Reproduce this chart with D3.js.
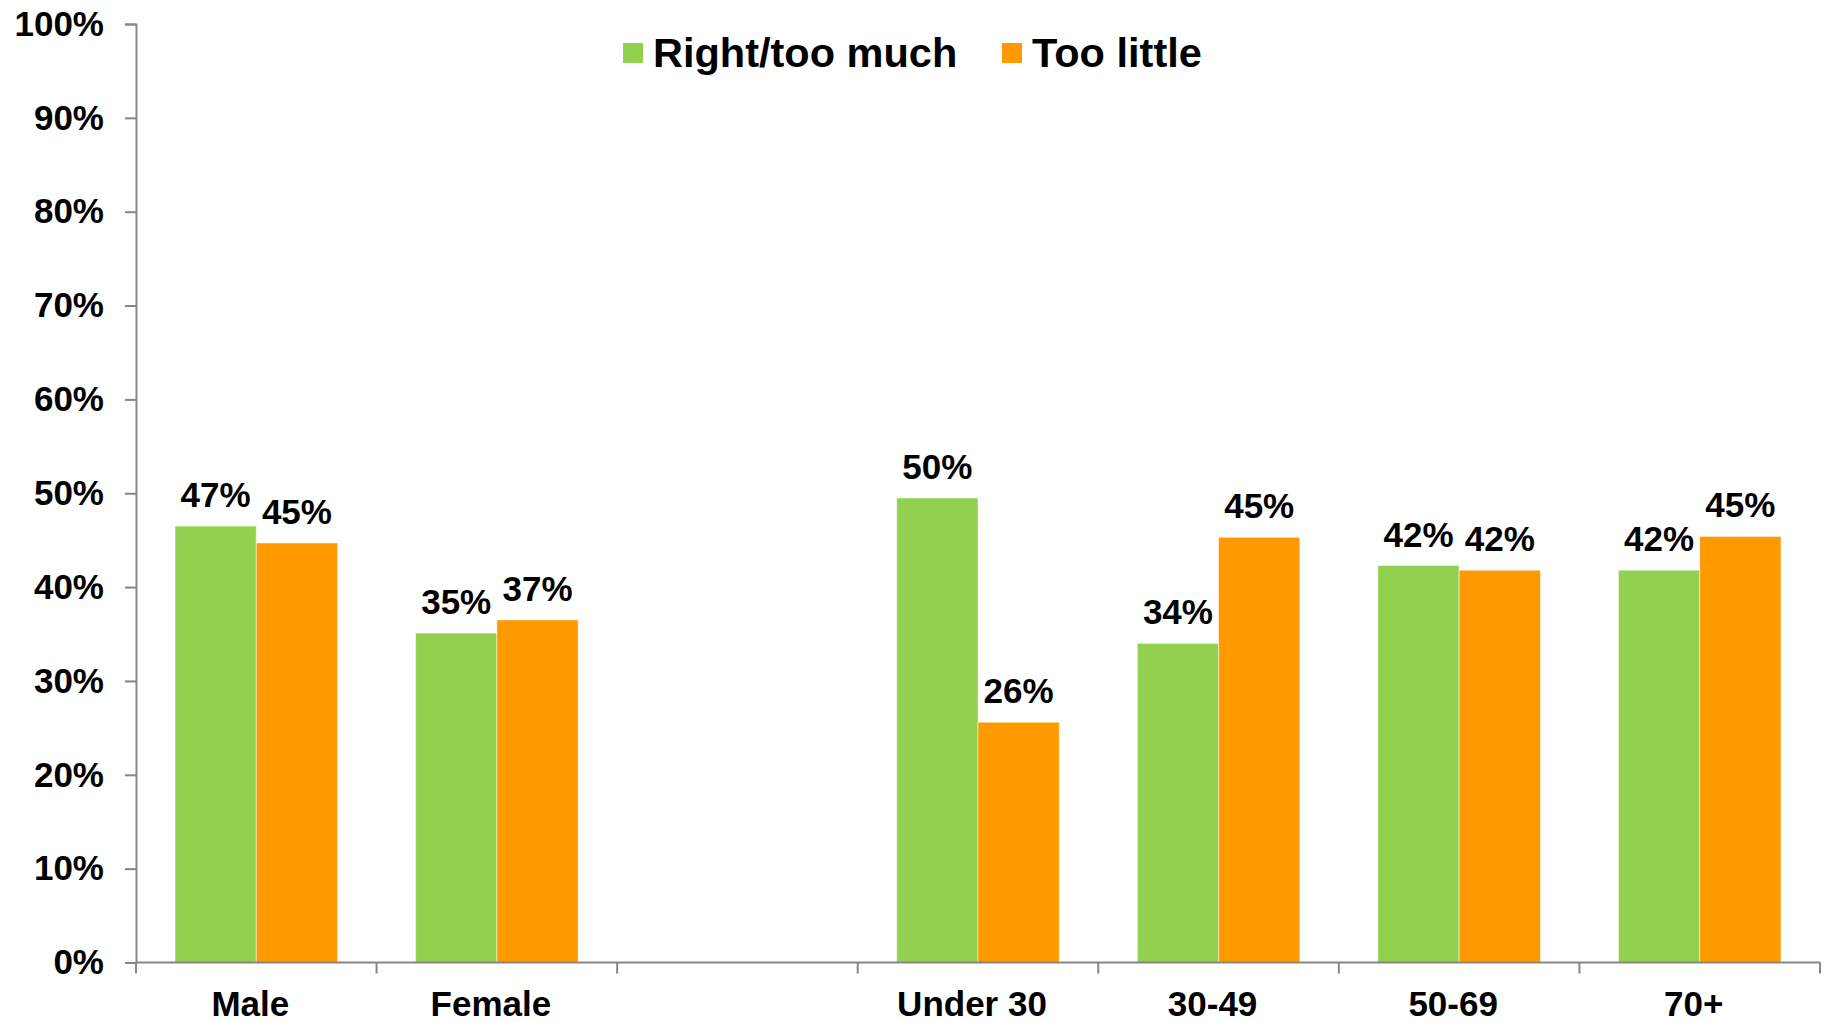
<!DOCTYPE html>
<html>
<head>
<meta charset="utf-8">
<script src="https://cdn.jsdelivr.net/npm/d3@7"></script>
<style>
  html, body { margin: 0; padding: 0; background: #fff; }
  svg { display: block; font-family: "Liberation Sans", Arial, sans-serif; font-weight: bold; }
</style>
</head>
<body>
<svg id="chart" width="1823" height="1022"></svg>
<script>
// Groups along the x axis; the empty entry leaves a gap between sex and age groups
const categories = ["Male", "Female", "", "Under 30", "30-49", "50-69", "70+"];
const seriesNames = ["Right/too much", "Too little"];
const seriesColors = ["#92D050", "#FF9900"];
const rightTooMuch = [0.465, 0.351, null, 0.495, 0.340, 0.423, 0.418];
const tooLittle    = [0.447, 0.365, null, 0.256, 0.453, 0.418, 0.454];
const yTicks = [0, 0.1, 0.2, 0.3, 0.4, 0.5, 0.6, 0.7, 0.8, 0.9, 1.0];

const series = [rightTooMuch, tooLittle];

const svg = d3.select("#chart");
const plotLeft = 136, plotRight = 1820, plotTop = 24, plotBottom = 962.5;
const axisColor = "#868686";

const x = d3.scaleBand().domain(categories).range([plotLeft, plotRight]).paddingInner(0).paddingOuter(0);
const xInner = d3.scaleBand().domain(d3.range(series.length)).range([0, x.bandwidth()]).paddingInner(0).paddingOuter(0.48);
const y = d3.scaleLinear().domain([0, 1]).range([plotBottom, plotTop]);

// Bars and value labels
categories.forEach((cat, i) => {
  series.forEach((vals, s) => {
    const v = vals[i];
    if (v == null) return;
    svg.append("rect")
      .attr("x", x(cat) + xInner(s))
      .attr("y", y(v))
      .attr("width", xInner.bandwidth())
      .attr("height", y(0) - y(v))
      .attr("fill", seriesColors[s])
      .attr("stroke", "#fff")
      .attr("stroke-opacity", 0.5)
      .attr("stroke-width", 1);
    svg.append("text")
      .attr("x", x(cat) + xInner(s) + xInner.bandwidth() / 2)
      .attr("y", y(v) - 19)
      .attr("text-anchor", "middle")
      .attr("font-size", 35)
      .attr("fill", "#000")
      .text(d3.format(".0%")(v));
  });
});

// Y axis
const yAxis = d3.axisLeft(y).tickValues(yTicks).tickFormat(d3.format(".0%")).tickSize(11).tickPadding(21);
const gy = svg.append("g").attr("transform", `translate(${plotLeft},0)`).call(yAxis);
gy.select(".domain").attr("stroke", axisColor).attr("stroke-width", 2);
gy.selectAll(".tick line").attr("stroke", axisColor).attr("stroke-width", 2);
gy.selectAll(".tick text").attr("font-size", 35).attr("font-weight", "bold").attr("fill", "#000")
  .attr("font-family", "Liberation Sans, Arial, sans-serif");

// X axis: ticks at group boundaries, labels centred in each group
const boundaries = categories.map(c => x(c)).concat([plotRight]);
const gx = svg.append("g");
gx.append("line").attr("x1", plotLeft).attr("x2", plotRight).attr("y1", plotBottom).attr("y2", plotBottom)
  .attr("stroke", axisColor).attr("stroke-width", 2);
gx.selectAll("line.tk").data(boundaries).join("line").attr("class", "tk")
  .attr("x1", d => d).attr("x2", d => d).attr("y1", plotBottom).attr("y2", plotBottom + 11)
  .attr("stroke", axisColor).attr("stroke-width", 2);
gx.selectAll("text").data(categories.filter(c => c !== "")).join("text")
  .attr("x", d => x(d) + x.bandwidth() / 2 - 6)
  .attr("y", 1016)
  .attr("text-anchor", "middle")
  .attr("font-size", 35)
  .attr("fill", "#000")
  .text(d => d);

// Legend
const legendItems = [
  { name: seriesNames[0], color: seriesColors[0], x: 623 },
  { name: seriesNames[1], color: seriesColors[1], x: 1002 }
];
const lg = svg.append("g");
legendItems.forEach(it => {
  lg.append("rect").attr("x", it.x).attr("y", 43).attr("width", 20).attr("height", 20).attr("fill", it.color);
  lg.append("text").attr("x", it.x + 30).attr("y", 67).attr("font-size", 41.5).attr("fill", "#000").text(it.name);
});
</script>
</body>
</html>
